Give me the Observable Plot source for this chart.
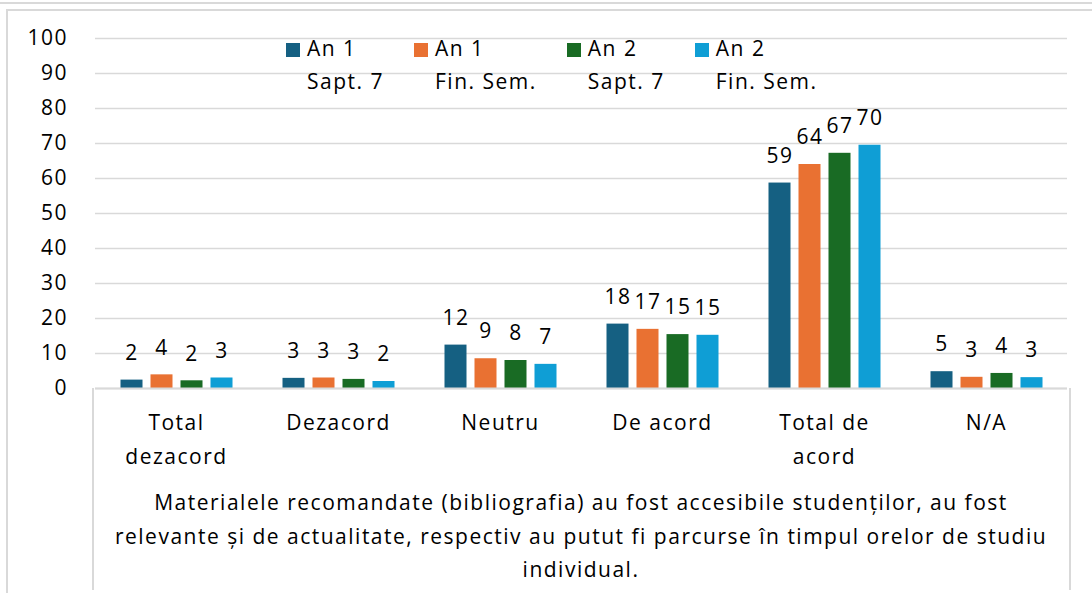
<!DOCTYPE html>
<html>
<head>
<meta charset="utf-8">
<script src="https://cdn.jsdelivr.net/npm/d3@7"></script>
<script src="https://cdn.jsdelivr.net/npm/@observablehq/plot@0.6"></script>
<style>
  html, body { margin: 0; padding: 0; background: #fff; }
  body { width: 1092px; height: 593px; overflow: hidden; position: relative; font-family: "Open Sans", sans-serif; color: #000; letter-spacing: 1.5px; }
  #topline { position: absolute; left: 0; top: 2px; width: 1092px; height: 0; border-top: 2px solid #d9d9d9; }
  #frame { position: absolute; left: 6px; top: 9px; width: 2000px; height: 2000px; border: 2px solid #d9d9d9; box-sizing: border-box; }
  #chart { position: absolute; left: 0; top: 0; }
  #legend { position: absolute; left: 286px; top: 32px; display: flex; font-size: 21px; line-height: 33px; }
  .item { display: flex; align-items: flex-start; margin-right: 30px; }
  .sw { width: 14px; height: 14px; margin-top: 11px; margin-right: 7px; }
  #table { position: absolute; left: 91.5px; top: 388px; width: 979px; height: 202px; border-left: 2px solid #d9d9d9; border-right: 2px solid #d9d9d9; box-sizing: border-box; }
  #caption { position: absolute; left: 92.5px; width: 977px; top: 486px; text-align: center; font-size: 21px; line-height: 33.5px; }
</style>
</head>
<body>
<div id="topline"></div>
<div id="frame"></div>
<div id="table"></div>
<div id="chart"></div>
<div id="legend"></div>
<div id="caption"></div>
<script>
const categories = ["Total dezacord", "Dezacord", "Neutru", "De acord", "Total de acord", "N/A"];
const categoryLabels = ["Total\ndezacord", "Dezacord", "Neutru", "De acord", "Total de\nacord", "N/A"];
const seriesNames = ["An 1 Sapt. 7", "An 1 Fin. Sem.", "An 2 Sapt. 7", "An 2 Fin. Sem."];
const legendLines = [["An 1", "Sapt. 7"], ["An 1", "Fin. Sem."], ["An 2", "Sapt. 7"], ["An 2", "Fin. Sem."]];
const seriesColors = ["#156082", "#E97132", "#196B24", "#0F9ED5"];
const valuesAn1Sapt7 = [2.4, 2.9, 12.4, 18.4, 58.7, 4.8];
const valuesAn1FinSem = [3.9, 3.0, 8.5, 16.9, 64.0, 3.2];
const valuesAn2Sapt7 = [2.2, 2.6, 8.0, 15.4, 67.2, 4.3];
const valuesAn2FinSem = [3.0, 2.0, 6.9, 15.2, 69.5, 3.1];
const yTicks = [0, 10, 20, 30, 40, 50, 60, 70, 80, 90, 100];
const captionLines = [
  "Materialele recomandate (bibliografia) au fost accesibile studenților, au fost",
  "relevante și de actualitate, respectiv au putut fi parcurse în timpul orelor de studiu",
  "individual."
];

const seriesValues = [valuesAn1Sapt7, valuesAn1FinSem, valuesAn2Sapt7, valuesAn2FinSem];
const data = [];
categories.forEach((c, i) => {
  seriesNames.forEach((s, j) => data.push({category: c, series: s, value: seriesValues[j][i]}));
});

const chart = Plot.plot({
  width: 1092,
  height: 590,
  marginLeft: 92.5,
  marginRight: 22.5,
  marginTop: 38,
  marginBottom: 202,
  style: {fontFamily: "'Open Sans', sans-serif", fontSize: "21px", color: "#000", background: "transparent", letterSpacing: "1.5px"},
  fx: {domain: categories, padding: 0, axis: null, label: null},
  x: {domain: seriesNames, paddingInner: 0.28, paddingOuter: 0.81, axis: null},
  y: {domain: [0, 100], axis: null},
  color: {domain: seriesNames, range: seriesColors},
  marks: [
    Plot.gridY(yTicks, {stroke: "#d9d9d9", strokeOpacity: 1, strokeWidth: 1.5}),
    Plot.axisY(yTicks, {anchor: "left", tickSize: 0, tickPadding: 27.5, fontSize: 21, label: null, tickFormat: d => String(d)}),
    Plot.barY(data, {fx: "category", x: "series", y: "value", fill: "series"}),
    Plot.text(data, {fx: "category", x: "series", y: "value", text: d => String(Math.round(d.value)), dy: -27, fontSize: 21, fill: "#000"}),
    Plot.ruleY([0], {stroke: "#d9d9d9", strokeWidth: 2}),
    Plot.axisFx({anchor: "bottom", tickSize: 0, tickPadding: 17, fontSize: 21, lineHeight: 1.62, label: null,
      tickFormat: c => categoryLabels[categories.indexOf(c)]})
  ]
});
document.getElementById("chart").appendChild(chart);

const legend = document.getElementById("legend");
seriesNames.forEach((s, i) => {
  const item = document.createElement("div");
  item.className = "item";
  const sw = document.createElement("div");
  sw.className = "sw";
  sw.style.background = seriesColors[i];
  const txt = document.createElement("div");
  txt.innerHTML = legendLines[i].join("<br>");
  item.appendChild(sw);
  item.appendChild(txt);
  legend.appendChild(item);
});

document.getElementById("caption").innerHTML = captionLines.join("<br>");
</script>
</body>
</html>
